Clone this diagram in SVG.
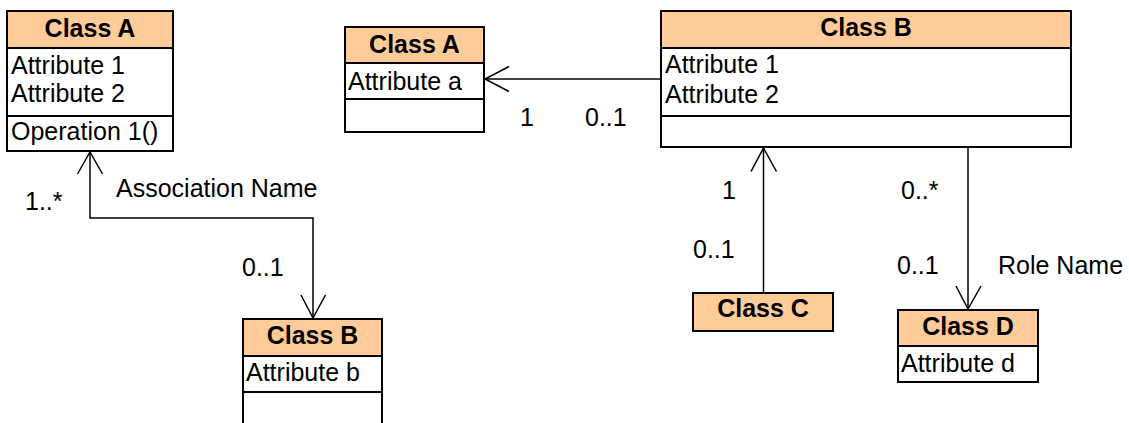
<svg xmlns="http://www.w3.org/2000/svg" width="1129" height="423" viewBox="0 0 1129 423">
<style>
.box{fill:#fff;stroke:#000;stroke-width:2}
.hdr{fill:#FFCC99;stroke:#000;stroke-width:2}
.t{font-family:"Liberation Sans",Arial,sans-serif;font-size:25px;fill:#000}
.b{font-weight:bold;text-anchor:middle}
.ln{fill:none;stroke:#000;stroke-width:1.5}
</style>
<rect width="1129" height="423" fill="#fff"/>
<g id="classA1">
<rect class="box" x="7" y="11" width="166" height="140"/>
<rect class="hdr" x="7" y="11" width="166" height="37"/>
<line class="ln" x1="7" y1="116" x2="173" y2="116" style="stroke-width:2"/>
<text class="t b" x="90" y="37">Class A</text>
<text class="t" x="11" y="74">Attribute 1</text>
<text class="t" x="11" y="102">Attribute 2</text>
<text class="t" x="11" y="140">Operation 1()</text>
</g>
<g id="classA2">
<rect class="box" x="345" y="27" width="139" height="105"/>
<rect class="hdr" x="345" y="27" width="139" height="36"/>
<line class="ln" x1="345" y1="99" x2="484" y2="99" style="stroke-width:2"/>
<text class="t b" x="414.5" y="53">Class A</text>
<text class="t" x="348" y="90">Attribute a</text>
</g>
<g id="classB1">
<rect class="box" x="661" y="11" width="410" height="136"/>
<rect class="hdr" x="661" y="11" width="410" height="37"/>
<line class="ln" x1="661" y1="116" x2="1071" y2="116" style="stroke-width:2"/>
<text class="t b" x="866" y="36">Class B</text>
<text class="t" x="665" y="73">Attribute 1</text>
<text class="t" x="665" y="103">Attribute 2</text>
</g>
<g id="classB2">
<rect class="box" x="243" y="319" width="139" height="110"/>
<rect class="hdr" x="243" y="319" width="139" height="37"/>
<line class="ln" x1="243" y1="392" x2="382" y2="392" style="stroke-width:2"/>
<text class="t b" x="312.5" y="344">Class B</text>
<text class="t" x="246" y="381">Attribute b</text>
</g>
<g id="classC">
<rect class="hdr" x="693" y="293" width="140" height="38"/>
<text class="t b" x="763" y="317">Class C</text>
</g>
<g id="classD">
<rect class="box" x="898" y="310" width="140" height="72"/>
<rect class="hdr" x="898" y="310" width="140" height="36"/>
<text class="t b" x="968" y="335">Class D</text>
<text class="t" x="901" y="372">Attribute d</text>
</g>
<g id="connectors">
<polyline class="ln" points="90,152 90,218 313,218 313,318"/>
<polyline class="ln" points="77.5,174 90,152 102.5,174"/>
<polyline class="ln" points="301,295 313,318 325.5,295"/>
<line class="ln" x1="485" y1="79" x2="661" y2="79"/>
<polyline class="ln" points="509,66.5 485,79 509,91.5"/>
<line class="ln" x1="763.5" y1="148" x2="763.5" y2="293"/>
<polyline class="ln" points="751,171.5 763.5,148 776.5,171.5"/>
<line class="ln" x1="968" y1="147" x2="968" y2="309"/>
<polyline class="ln" points="956,286 968,309 981,286"/>
</g>
<g id="labels">
<text class="t" x="25" y="210">1..*</text>
<text class="t" x="116" y="197">Association Name</text>
<text class="t" x="242" y="276">0..1</text>
<text class="t" x="520" y="126">1</text>
<text class="t" x="585" y="126">0..1</text>
<text class="t" x="722" y="199">1</text>
<text class="t" x="693" y="258">0..1</text>
<text class="t" x="901" y="199">0..*</text>
<text class="t" x="897" y="274">0..1</text>
<text class="t" x="998" y="274">Role Name</text>
</g>
</svg>
